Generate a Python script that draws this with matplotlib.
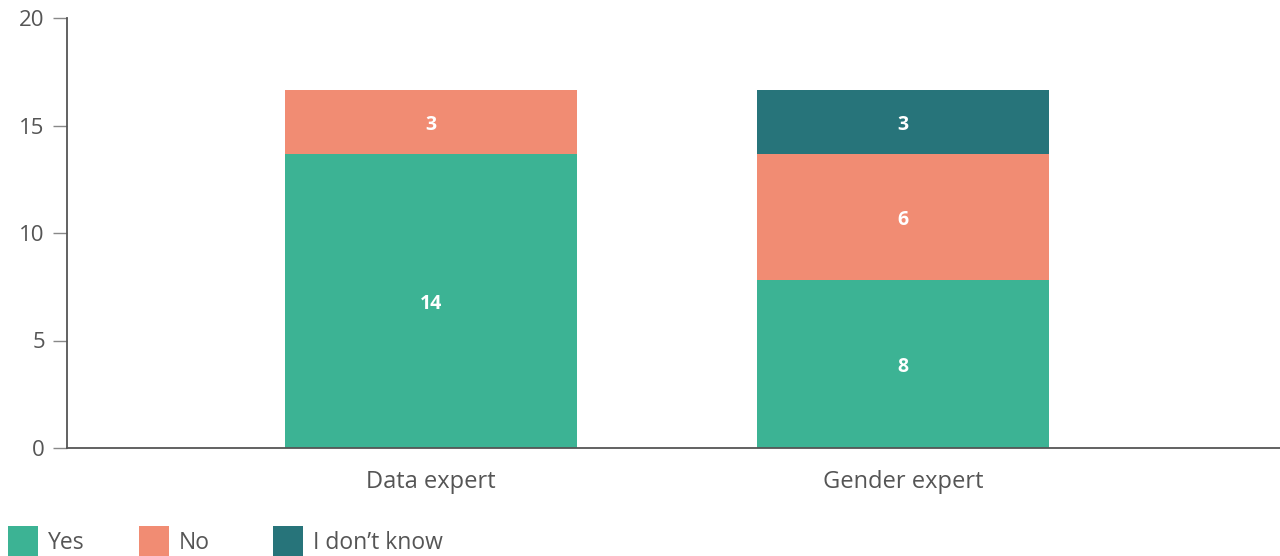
import matplotlib
matplotlib.use("Agg")
import matplotlib.pyplot as plt
from matplotlib.patches import Rectangle
import numpy as np

plt.rcParams['font.family'] = ['Open Sans', 'DejaVu Sans']

categories = ["Data expert", "Gender expert"]
series_names = ["Yes", "No", "I don\u2019t know"]
yes_values = [13.67, 7.81]
no_values = [2.98, 5.86]
dont_know_values = [0.0, 2.98]
colors = ["#3cb394", "#f18c73", "#27747a"]
yticks = [0, 5, 10, 15, 20]

fig = plt.figure(figsize=(12.8, 5.56), dpi=100)
ax = fig.add_axes([67 / 1280, 1 - 448 / 556, 1 - 67 / 1280, (448 - 18) / 556])

x = np.arange(len(categories))
bar_width = 0.62
bottom = np.zeros(len(categories))
for values, color in zip([yes_values, no_values, dont_know_values], colors):
    vals = np.array(values)
    bars = ax.bar(x, vals, bar_width, bottom=bottom, color=color, linewidth=0)
    for rect, v, b in zip(bars, vals, bottom):
        if v > 0:
            ax.text(rect.get_x() + rect.get_width() / 2, b + v / 2, f"{v:.0f}",
                    ha="center", va="center_baseline", color="white",
                    fontsize=14, fontweight="bold")
    bottom += vals

ax.set_xlim(-0.771, 1.799)
ax.set_ylim(0, 20)
ax.set_yticks(yticks)
ax.set_xticks(x)
ax.set_xticklabels(categories)

gray = "#555555"
for side in ["top", "right"]:
    ax.spines[side].set_visible(False)
for side in ["left", "bottom"]:
    ax.spines[side].set_color(gray)
    ax.spines[side].set_linewidth(1.3)

ax.tick_params(axis="y", length=10, width=1.0, color="#888888", pad=6,
               labelsize=16, labelcolor=gray)
ax.tick_params(axis="x", length=0, pad=16, labelsize=17, labelcolor=gray)

# legend row at the bottom edge
legend_x = [8, 139, 273]
for lx, name, color in zip(legend_x, series_names, colors):
    fig.add_artist(Rectangle((lx / 1280, 0), 30 / 1280, 30 / 556,
                             transform=fig.transFigure, color=color, linewidth=0))
    fig.text((lx + 40) / 1280, 13 / 556, name, fontsize=16.5, color=gray,
             ha="left", va="center")

fig.savefig("out.png", dpi=100)
